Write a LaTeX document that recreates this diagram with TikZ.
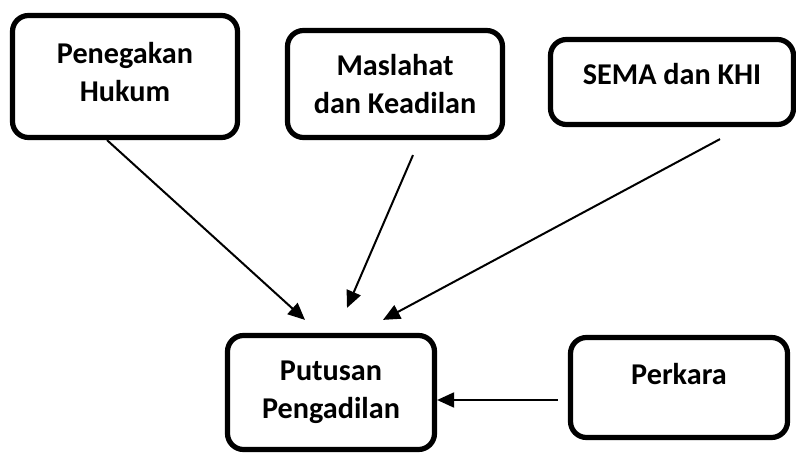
\documentclass[tikz,border=0pt]{standalone}
\usepackage{fontspec}
\setmainfont{Carlito}
\usetikzlibrary{arrows.meta,positioning,calc}
\tikzset{
  box/.style ={draw=black,fill=white,line width=2.6pt,rounded corners=8pt,
               align=center,inner sep=2pt,
               font=\fontsize{15.1}{19}\selectfont\bfseries},
  arr/.style ={-{Triangle[length=8.5pt,width=7.5pt]},draw=black,line width=1pt},
}

\begin{document}
\begin{tikzpicture}[x=0.5pt, y=-0.5pt]
\useasboundingbox (0,0) rectangle (796,453);

% ===== sources =============================================================
\node[box,minimum width=112.5pt,minimum height=61pt,text depth=5pt] (hukum) at (125,76.5)
  {Penegakan\\Hukum};
\node[box,minimum width=107.5pt,minimum height=53.5pt] (maslahat) at (395,84)
  {Maslahat\\dan Keadilan};
\node[box,minimum width=121.5pt,minimum height=42.5pt,text depth=8pt] (sema) at (672,82)
  {SEMA dan KHI};

% ===== decision and case ===================================================
\node[box,minimum width=103.5pt,minimum height=57pt] (putusan) at (331,392.5)
  {Putusan\\Pengadilan};
\node[box,minimum width=108.5pt,minimum height=50pt,text depth=14pt] (perkara) at (679,387.5)
  {Perkara};

% ===== connectors ==========================================================
\draw[arr] ($(hukum.south)+(-18,0)$) -- ($(putusan.north)+(-26,-13)$);
\draw[arr] ($(maslahat.south)+(18,15)$) -- ($(putusan.north)+(16,-25)$);
\draw[arr] ($(sema.south)+(48,12)$) -- ($(putusan.north)+(52,-13)$);
\draw[arr] ($(perkara.west)+(-10,12.5)$) coordinate (pk) -- (pk -| putusan.east);
\end{tikzpicture}
\end{document}
